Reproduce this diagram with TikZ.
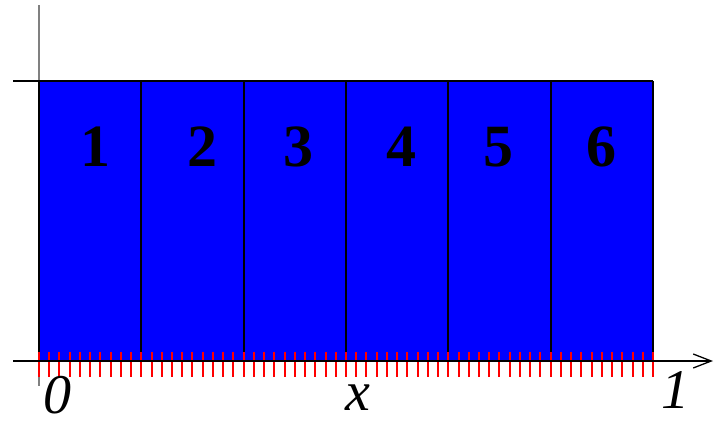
\documentclass[tikz,border=0pt]{standalone}
\usepackage{fontspec}
\setmainfont{Liberation Serif}
\usetikzlibrary{arrows.meta}
\begin{document}
\begin{tikzpicture}[x=1pt,y=-1pt,
  cellnum/.style={font=\fontsize{60}{60}\selectfont\bfseries, inner sep=0pt, anchor=base},
  axlabel/.style={font=\fontsize{56}{56}\selectfont\itshape, inner sep=0pt, anchor=base},
  cellline/.style={black, line width=2pt},
  tick/.style={red, line width=2pt}]
\useasboundingbox (0,0) rectangle (714,421);
% vertical axis
\coordinate (vtop) at (39,5);
\coordinate (vbot) at (39,386);
\draw[gray, line width=2pt] (vtop) -- (vbot);
% blue block
\coordinate (bl) at (39,361);
\coordinate (tr) at (653,81);
\fill[blue] (bl) rectangle (tr);
% top line
\coordinate (tl0) at (13,81);
\draw[cellline] (tl0) -- (tr);
% dividers
\foreach \i in {0,...,6}{
  \pgfmathsetmacro{\xx}{round(39+102.333*\i)}
  \coordinate (d\i t) at (\xx,81);
  \coordinate (d\i b) at (\xx,361);
  \draw[cellline] (d\i t) -- (d\i b);
}
% ticks
\foreach \k in {0,...,60}{
  \pgfmathsetmacro{\xx}{round(39+10.2333*\k)}
  \coordinate (t\k a) at (\xx,352);
  \coordinate (t\k b) at (\xx,377);
  \draw[tick] (t\k a) -- (t\k b);
}
% horizontal axis
\coordinate (hl) at (13,361);
\coordinate (hr) at (713,361);
\draw[black, line width=2pt, -{Straight Barb[length=18pt,width=14pt,line width=1.3pt]}] (hl) -- (hr);
% numbers
\node[cellnum] (n1) at (95,166) {1};
\node[cellnum] (n2) at (202,166) {2};
\node[cellnum] (n3) at (298,166) {3};
\node[cellnum] (n4) at (401,166) {4};
\node[cellnum] (n5) at (498,166) {5};
\node[cellnum] (n6) at (601,166) {6};
% labels
\node[axlabel] (l0) at (57,413) {0};
\node[axlabel] (lx) at (358,410) {x};
\node[axlabel] (l1) at (675,408) {1};
\end{tikzpicture}
\end{document}
